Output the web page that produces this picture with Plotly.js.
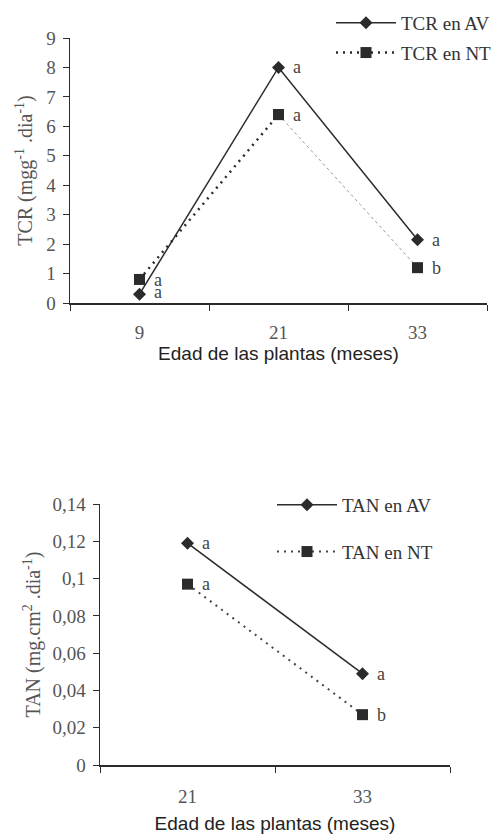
<!DOCTYPE html>
<html>
<head>
<meta charset="utf-8">
<script src="https://cdn.plot.ly/plotly-3.0.1.min.js"></script>
<style>html,body{margin:0;padding:0;background:#fff;}#chart{width:503px;height:837px;}</style>
</head>
<body>
<div id="chart"></div>
<script>
// ---- Data ----
const agesTCR = ['9', '21', '33'];
const tcrAV = [0.3, 8.0, 2.15];
const tcrNT = [0.8, 6.4, 1.2];
const lettersTcrAV = ['a', 'a', 'a'];
const lettersTcrNT = ['a', 'a', 'b'];

const agesTAN = ['21', '33'];
const tanAV = [0.119, 0.049];
const tanNT = [0.097, 0.027];
const lettersTanAV = ['a', 'a'];
const lettersTanNT = ['a', 'b'];

const tcrTicks = [0, 1, 2, 3, 4, 5, 6, 7, 8, 9];
const tanTicks = [0, 0.02, 0.04, 0.06, 0.08, 0.1, 0.12, 0.14];
const tanTickText = ['0', '0,02', '0,04', '0,06', '0,08', '0,1', '0,12', '0,14'];

// ---- Styles ----
const ink = '#2b2b2b';
const serif = "'Liberation Serif', 'Times New Roman', serif";
const sans = "'Liberation Sans', Arial, sans-serif";
const tickFont = {family: serif, size: 19, color: '#555'};

const traces = [
  // TCR NT, second segment (light dashed)
  {x: agesTCR.slice(1), y: tcrNT.slice(1), xaxis: 'x', yaxis: 'y', mode: 'lines+markers',
   line: {color: '#999', width: 1, dash: '3px,3px'},
   marker: {symbol: 'square', size: 11, color: ink}, showlegend: false, hoverinfo: 'skip'},
  // TCR NT, first segment (dark dotted)
  {x: agesTCR.slice(0, 2), y: tcrNT.slice(0, 2), xaxis: 'x', yaxis: 'y', mode: 'lines+markers',
   name: 'TCR en NT', legend: 'legend', legendgroup: 'tnt', legendrank: 2,
   line: {color: ink, width: 2.5, dash: '2px,5px'},
   marker: {symbol: 'square', size: 11, color: ink}},
  // TCR AV
  {x: agesTCR, y: tcrAV, xaxis: 'x', yaxis: 'y', mode: 'lines+markers', name: 'TCR en AV',
   legend: 'legend', legendgroup: 'tav', legendrank: 1,
   line: {color: ink, width: 1.5}, marker: {symbol: 'diamond', size: 10, color: ink}},
  // TAN NT
  {x: agesTAN, y: tanNT, xaxis: 'x2', yaxis: 'y2', mode: 'lines+markers', name: 'TAN en NT',
   legend: 'legend2', legendgroup: 'ant', legendrank: 2,
   line: {color: '#444', width: 2, dash: '2px,5px'},
   marker: {symbol: 'square', size: 11, color: ink}},
  // TAN AV
  {x: agesTAN, y: tanAV, xaxis: 'x2', yaxis: 'y2', mode: 'lines+markers', name: 'TAN en AV',
   legend: 'legend2', legendgroup: 'aav', legendrank: 1,
   line: {color: ink, width: 1.5}, marker: {symbol: 'diamond', size: 10, color: ink}}
];

// Letters next to points; on category axes annotation x is the category index
function letterAnnots(xs, ys, letters, xref, yref, yshift) {
  return xs.map((x, i) => ({
    x: i, y: ys[i], xref: xref, yref: yref, text: letters[i], showarrow: false,
    xanchor: 'left', yanchor: 'middle', xshift: 12, yshift: yshift[i] || 0,
    font: {family: serif, size: 18, color: '#444'}
  }));
}

const annotations = [].concat(
  letterAnnots(agesTCR, tcrAV, lettersTcrAV, 'x', 'y', [2, 0, 0]),
  letterAnnots(agesTCR, tcrNT, lettersTcrNT, 'x', 'y', [-1, 0, 0]),
  letterAnnots(agesTAN, tanAV, lettersTanAV, 'x2', 'y2', [0, 0]),
  letterAnnots(agesTAN, tanNT, lettersTanNT, 'x2', 'y2', [0, 0])
);

const axisCommon = {
  showgrid: false, zeroline: false, showline: true, linecolor: ink, linewidth: 1.5,
  ticks: 'outside', ticklen: 6, tickcolor: ink, tickfont: tickFont
};

const layout = {
  width: 503, height: 837,
  margin: {l: 0, r: 0, t: 0, b: 0},
  paper_bgcolor: '#fff', plot_bgcolor: '#fff',
  showlegend: true,
  xaxis: Object.assign({}, axisCommon, {
    domain: [70 / 503, 487 / 503], anchor: 'y', type: 'category',
    categoryorder: 'array', categoryarray: agesTCR, range: [-0.5, 2.5],
    tickson: 'boundaries', ticklabelstandoff: 12,
    title: {text: 'Edad de las plantas (meses)', standoff: 4,
            font: {family: sans, size: 19, color: '#222'}}
  }),
  yaxis: Object.assign({}, axisCommon, {
    domain: [1 - 303 / 837, 1 - 38 / 837], anchor: 'x', range: [0, 9],
    tickvals: tcrTicks, ticklabelstandoff: 3,
    title: {text: 'TCR (mgg<sup>-1</sup> .dia<sup>-1</sup>)', standoff: 8,
            font: {family: serif, size: 20, color: '#555'}}
  }),
  xaxis2: Object.assign({}, axisCommon, {
    domain: [100 / 503, 450 / 503], anchor: 'y2', type: 'category',
    categoryorder: 'array', categoryarray: agesTAN, range: [-0.5, 1.5],
    tickson: 'boundaries', ticklabelstandoff: 14,
    title: {text: 'Edad de las plantas (meses)', standoff: 10,
            font: {family: sans, size: 19, color: '#222'}}
  }),
  yaxis2: Object.assign({}, axisCommon, {
    domain: [1 - 765 / 837, 1 - 504 / 837], anchor: 'x2', range: [0, 0.14],
    tickvals: tanTicks, ticktext: tanTickText, ticklabelstandoff: 3,
    title: {text: 'TAN (mg.cm<sup>2</sup> .dia<sup>-1</sup>)', standoff: 6,
            font: {family: serif, size: 20, color: '#555'}}
  }),
  legend: {x: 331 / 503, y: 1 - 4 / 837, xanchor: 'left', yanchor: 'top',
           font: {family: serif, size: 19, color: '#333'}, bgcolor: 'rgba(0,0,0,0)',
           traceorder: 'grouped', tracegroupgap: 2, itemwidth: 60},
  legend2: {x: 272 / 503, y: 1 - 486 / 837, xanchor: 'left', yanchor: 'top',
            font: {family: serif, size: 19, color: '#333'}, bgcolor: 'rgba(0,0,0,0)',
            traceorder: 'grouped', tracegroupgap: 19, itemwidth: 60},
  annotations: annotations
};

Plotly.newPlot('chart', traces, layout, {displayModeBar: false, staticPlot: true});
</script>
</body>
</html>
